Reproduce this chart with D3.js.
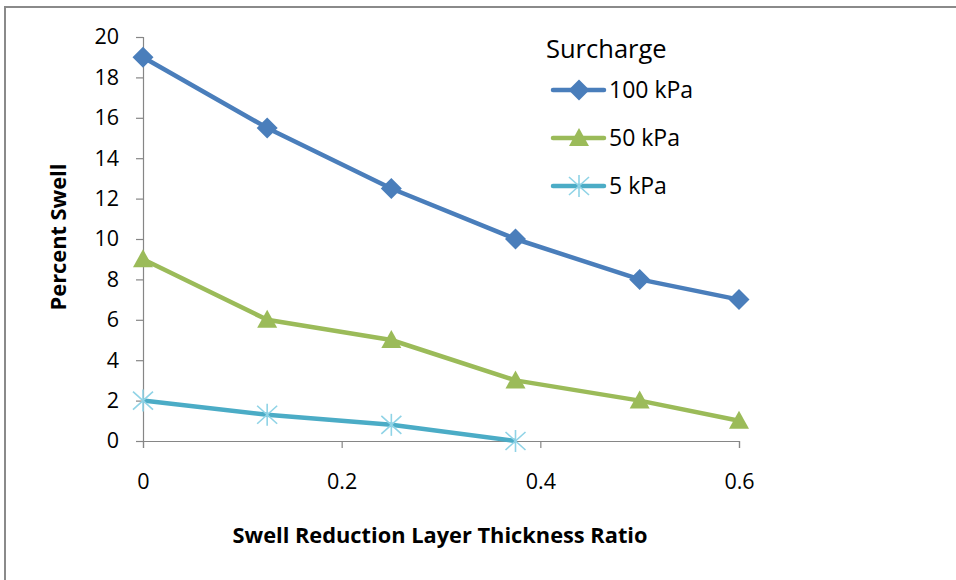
<!DOCTYPE html>
<html><head><meta charset="utf-8">
<script src="https://cdn.jsdelivr.net/npm/d3@7"></script>
<style>body{margin:0;background:#fff}svg{display:block}text{font-family:"Open Sans",sans-serif}</style>
</head><body><svg id="c" width="956" height="580"></svg>
<script>
const xValues = [0, 0.125, 0.25, 0.375, 0.5, 0.6];
const s100 = [19, 15.5, 12.5, 10, 8, 7];
const s50 = [9, 6, 5, 3, 2, 1];
const s5 = [2, 1.3, 0.8, 0];
const seriesNames = ["100 kPa", "50 kPa", "5 kPa"];
const xTicks = [0, 0.2, 0.4, 0.6];
const yTicks = [0, 2, 4, 6, 8, 10, 12, 14, 16, 18, 20];

const svg = d3.select("#c");
svg.append("rect").attr("x",5).attr("y",7).attr("width",1000).attr("height",600)
  .attr("fill","#fff").attr("stroke","#8a8a8a").attr("stroke-width",2);

const x = d3.scaleLinear().domain([0,0.6]).range([143,739]);
const y = d3.scaleLinear().domain([0,20]).range([441,37]);
const axisColor = "#868686";

const gy = svg.append("g").attr("transform","translate(143,0)")
  .call(d3.axisLeft(y).tickValues(yTicks).tickSize(7).tickPadding(17).tickFormat(d3.format("d")));
const gx = svg.append("g").attr("transform","translate(0,441)")
  .call(d3.axisBottom(x).tickValues(xTicks).tickSize(7).tickPadding(26).tickFormat(d=>d===0?"0":d3.format(".1f")(d)));
[gx,gy].forEach(g=>{
  g.attr("font-size",null).attr("font-family",null);
  g.select(".domain").attr("stroke",axisColor).attr("stroke-width",1.2);
  g.selectAll(".tick line").attr("stroke",axisColor).attr("stroke-width",1.2);
  g.selectAll(".tick text").attr("fill","#000").style("font-size","21.5px");
});

const colors = ["#4a7ebb","#9bbb59","#4bacc6"];
const data = [s100, s50, s5].map(s => s.map((v,i)=>({x:xValues[i], y:v})));
const line = d3.line().x(d=>x(d.x)).y(d=>y(d.y));
data.forEach((d,i)=>{
  svg.append("path").datum(d).attr("d",line).attr("fill","none")
    .attr("stroke",colors[i]).attr("stroke-width",4.5).attr("stroke-linejoin","round");
});

function marker(g, type, cx, cy) {
  if (type===0) {
    g.append("path").attr("d","M0,-10.5 L10.5,0 L0,10.5 L-10.5,0 Z")
     .attr("transform",`translate(${cx},${cy})`).attr("fill",colors[0]);
  } else if (type===1) {
    g.append("path").attr("d",`M0,-10 L10,8 L-10,8 Z`)
     .attr("transform",`translate(${cx},${cy})`).attr("fill",colors[1]);
  } else {
    const s = g.append("g").attr("transform",`translate(${cx},${cy})`)
      .attr("stroke","#8fd3e6").attr("stroke-width",1.6);
    s.append("line").attr("x1",0).attr("y1",-11).attr("x2",0).attr("y2",11);
    s.append("line").attr("x1",-10).attr("y1",-9).attr("x2",10).attr("y2",9);
    s.append("line").attr("x1",-10).attr("y1",9).attr("x2",10).attr("y2",-9);
  }
}
const mg = svg.append("g");
data.forEach((d,i)=>d.forEach(p=>marker(mg,i,x(p.x),y(p.y))));

// Legend
svg.append("text").attr("x",546).attr("y",58).text("Surcharge").style("font-size","25.5px").attr("fill","#000");
seriesNames.forEach((n,i)=>{
  const ly = 90 + i*48;
  svg.append("line").attr("x1",553).attr("x2",604).attr("y1",ly).attr("y2",ly)
    .attr("stroke",colors[i]).attr("stroke-width",4.5).attr("stroke-linecap","round");
  marker(svg,i,579,ly);
  svg.append("text").attr("x",609).attr("y",ly+8).text(n).style("font-size","23px").attr("fill","#000");
});

// Axis titles
svg.append("text").attr("x",440).attr("y",543).attr("text-anchor","middle")
  .style("font-size","21.8px").style("font-weight","bold").text("Swell Reduction Layer Thickness Ratio");
svg.append("text").attr("transform","translate(66,237) rotate(-90)").attr("text-anchor","middle")
  .style("font-size","21.8px").style("font-weight","bold").text("Percent Swell");
</script></body></html>
